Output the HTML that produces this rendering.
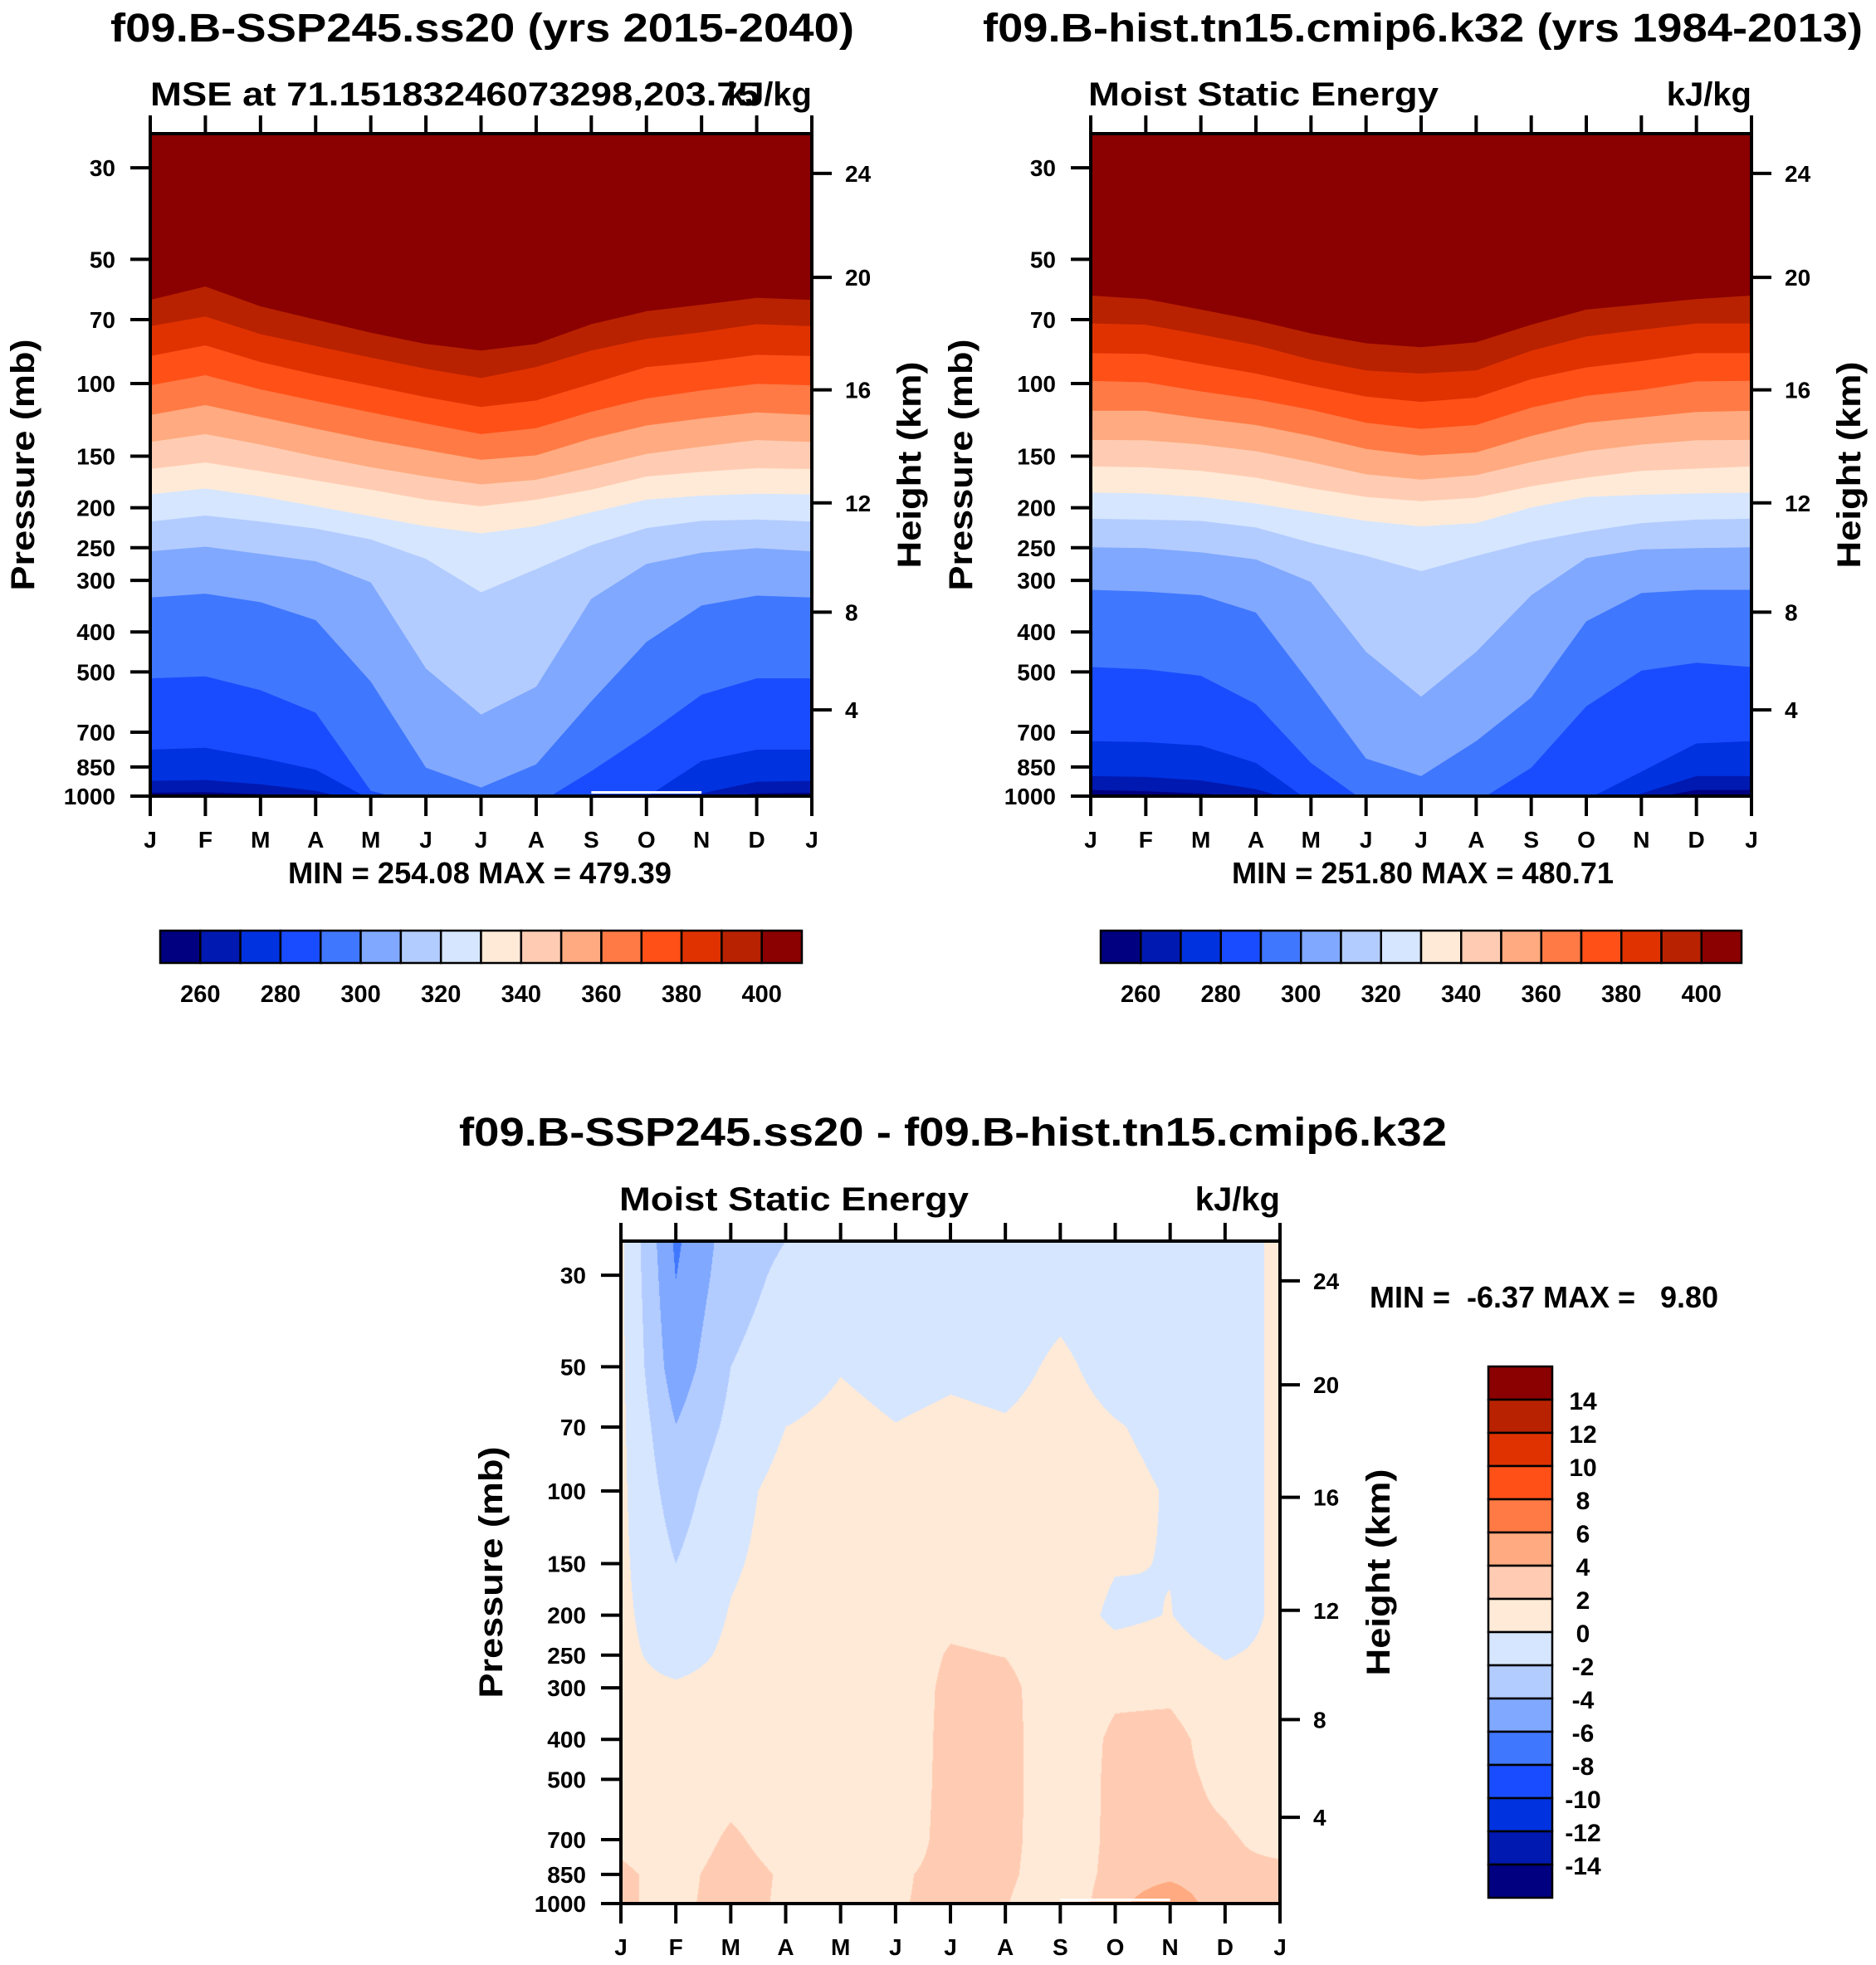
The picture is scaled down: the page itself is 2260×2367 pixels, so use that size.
<!DOCTYPE html>
<html><head><meta charset="utf-8">
<style>
html,body{margin:0;padding:0;background:#fff;}
#wrap{position:relative;width:2260px;height:2367px;overflow:hidden;background:#fff;}
canvas{position:absolute;}
svg{position:absolute;left:0;top:0;}
text{font-family:"Liberation Sans",Arial,sans-serif;font-weight:bold;fill:#000;}
</style></head>
<body>
<div id="wrap">
<canvas id="diffCanvas"></canvas>
<svg id="fig" width="2260" height="2367" xmlns="http://www.w3.org/2000/svg"></svg>
</div>
<script>
// ---------------- DATA ----------------
const months = ['J','F','M','A','M','J','J','A','S','O','N','D','J'];
const mseLevels = [260,270,280,290,300,310,320,330,340,350,360,370,380,390,400];
const mseTickLabels = [260,280,300,320,340,360,380,400];
const diffLevels = [-14,-12,-10,-8,-6,-4,-2,0,2,4,6,8,10,12,14];
const pressureTicks = [30,50,70,100,150,200,250,300,400,500,700,850,1000];
const heightTicks = [4,8,12,16,20,24];
const heightTickPressure = [618,358.2,194.7,103.6,55.3,30.96];
const palette = ['#000080','#0019b0','#0032e0','#1a4cff','#4077ff','#80a8ff','#b3ccff','#d6e6ff','#ffead7','#ffccb3','#ffaa80','#ff7a45','#ff5018','#e03200','#b82200','#8b0000'];

// contour-crossing pressures (hPa) per month, one row per MSE level (260..400)
const ssp245Bounds = [
 [981,978,989,1005,1050,1080,1080,1080,1080,1080,1020,985,981],
 [918.4,914,936,971,1040,1080,1080,1080,1080,1080,985,922.6,918.4],
 [771.6,763.5,807,862.6,1020,1060,1080,1060,1060,1005,822,771.6,771.6],
 [518.2,512.5,553.6,627.8,971,1050,1080,1050,870,708.7,568,518.2,518.2],
 [330.2,323,338.9,374.5,527.9,853,953,837.6,589.4,423,345.2,326.6,330.2],
 [255.1,248.6,258.9,269.6,303.4,490.4,634.5,543.4,332.7,273.6,257,250.6,255.1],
 [216,208.9,216,224.8,238.6,266,320.6,281.8,246.6,224,215.2,213.6,216],
 [185.6,179.7,187.7,198.4,209.8,221.7,230.8,221.7,205.2,191.2,187,185,185.6],
 [161.2,155.4,163.1,171.8,180.9,191.2,198.4,191.2,180.9,168,163.7,160.4,161.2],
 [138.6,132.6,140.6,150.3,159.5,168,175.6,171.1,159.5,148.1,142.2,137.1,138.6],
 [119.2,112.8,120.5,128.7,137.1,144.9,153.1,149.3,136,126.4,121.5,117.5,119.2],
 [101,95.5,103.3,110.3,117.5,125,132.6,128.3,117.1,108.7,104,100.2,101],
 [85.8,80.8,88.7,95.2,101.3,107.9,114,109.9,100.2,91.2,88.7,85.2,85.8],
 [72.6,68.8,75.9,81.1,86.5,92.1,97,91.2,83.2,77.9,75.1,71.8,72.6],
 [62.7,58.2,65,70,75.3,80.2,83.2,80.2,71.8,66.8,64.4,62,62.7]
];
const histBounds = [
 [966.4,973,985,1010,1060,1090,1090,1090,1090,1090,1020,966.4,966.4],
 [894.2,898.6,916.2,962,1050,1090,1090,1090,1090,1060,985.7,894.2,894.2],
 [736,739.6,754,831,1035,1090,1090,1090,1060,1020,872.7,745,736],
 [486.6,492.6,510.9,598.3,831,1035,1060,1035,852.9,605.8,496.6,475.2,486.6],
 [316.3,319.4,325.9,359.1,536.4,811.2,894.2,736,577,376.9,322,316.3,316.3],
 [249.3,250.5,256.6,266.9,302.8,447,574.3,447,325.9,264.8,252.4,250.5,249.3],
 [212.7,213.7,215.3,223.3,243.2,261.6,285,261.6,241.8,228.2,217.9,213.7,212.7],
 [183.8,184.7,188.3,195.3,205.1,215.3,222,217.9,199.6,188.3,186.1,184.7,183.8],
 [158.9,159.7,162.8,169.1,179.4,188.3,192.9,189.2,177.4,169.1,162.8,160.8,158.9],
 [137,137.3,140.6,145.9,155,166,171,166.8,155,145.9,140.6,137.3,137],
 [116.4,116.4,121.5,126.1,134,144.1,149.5,146.9,134,124.5,120.9,117.2,116.4],
 [98.5,99.3,104.5,109.2,115.8,124.5,128.8,126.1,114.4,107.1,103.7,98.8,98.5],
 [84.4,84.8,89.7,94.6,101.2,107.6,110.8,108.2,97.6,91.4,88.2,84.4,84.4],
 [71.5,72,76.1,80.7,87.5,93,94.6,93,83.3,76.9,74.1,71.5,71.5],
 [61.2,62.4,66.2,70.3,75.6,79.9,81.7,79.4,72,66.2,64.3,62.4,61.2]
];

// difference field (kJ/kg): grid pressures and one row per pressure level
const diffPressures = [24.8,30,50,70,100,150,200,250,300,400,500,700,850,1000];
const diff25  = [0.4,-6.37,-3.0,-2.0,-1.0,-1.0,-1.0,-1.0,-0.8,-1.0,-1.0,-1.0,0.4];
const diff30  = [0.4,-6.05,-2.8,-1.6,-0.8,-0.9,-0.9,-0.9,-0.6,-0.9,-1.0,-1.0,0.4];
const diff50  = [0.4,-5.2,-2.0,-1.0,-0.1,-0.6,-0.3,-0.5,0.3,-0.6,-0.8,-1.0,0.4];
const diff70  = [0.4,-3.95,-1.5,0.0,0.5,0.05,0.35,0.15,0.6,0.1,-0.4,-1.0,0.4];
const diff100 = [0.4,-3.0,-0.6,0.6,0.6,0.6,0.8,0.8,0.8,0.4,-0.1,-1.0,0.4];
const diff150 = [0.4,-2.0,-0.2,0.6,0.6,0.6,1.0,1.0,0.8,0.1,-0.05,-1.0,0.4];
const diff200 = [0.4,-1.2,0.1,0.7,0.6,0.6,1.5,1.3,0.8,-0.3,0.05,-1.0,0.4];
const diff250 = [0.4,-0.6,0.3,0.8,0.7,0.7,2.2,1.95,0.6,0.5,0.6,-0.1,0.4];
const diff300 = [0.4,0.2,0.5,0.8,0.7,0.7,2.5,2.6,0.6,1.6,1.6,0.5,0.4];
const diff400 = [0.5,0.5,0.6,0.8,0.7,0.7,2.6,2.7,0.6,2.4,2.6,1.0,0.5];
const diff500 = [0.5,0.5,1.0,0.8,0.7,0.8,2.6,2.7,0.6,2.5,2.5,1.6,0.5];
const diff700 = [1.5,0.5,2.4,0.9,0.7,1.2,2.5,2.6,0.7,2.5,2.4,2.2,1.5];
const diff850 = [2.4,1.2,3.0,1.7,0.8,1.8,2.4,2.4,0.8,2.6,3.3,2.2,2.4];
const diff1000= [2.3,1.4,3.0,1.6,0.8,1.9,2.3,2.1,0.5,3.2,6.2,2.0,2.3];
const diffRows = [diff25,diff30,diff50,diff70,diff100,diff150,diff200,diff250,diff300,diff400,diff500,diff700,diff850,diff1000];

// ---------------- DRAWING ----------------
const NS='http://www.w3.org/2000/svg';
const svg=document.getElementById('fig');
const PTOP=24.8, LOGR=Math.log10(1000/PTOP);
function el(tag,attrs,parent){const e=document.createElementNS(NS,tag);for(const k in attrs)e.setAttribute(k,attrs[k]);(parent||svg).appendChild(e);return e;}
function txt(s,x,y,size,anchor,extra,parent){const t=el('text',Object.assign({x:x,y:y,'font-size':size,'text-anchor':anchor||'start'},extra||{}),parent);t.textContent=s;return t;}

function mkAxes(box){
  box.xm=i=>box.L+(box.R-box.L)*i/12;
  box.yp=p=>box.B-(box.B-box.T)*Math.log10(1000/p)/LOGR;
  return box;
}
function frame(box,g){
  el('rect',{x:box.L,y:box.T,width:box.R-box.L,height:box.B-box.T,fill:'none',stroke:'#000','stroke-width':4},g);
  months.forEach((m,i)=>{
    const x=box.xm(i);
    const tt=el('line',{x1:x,y1:box.T,x2:x,y2:box.T-22,stroke:'#000','stroke-width':4},g);
    
    
    const tb=el('line',{x1:x,y1:box.B,x2:x,y2:box.B+24,stroke:'#000','stroke-width':4},g);
    
    
    const lab=txt(m,x,box.B+62,28,'middle',{},g);
    
    
  });
  pressureTicks.forEach(p=>{
    const y=box.yp(p);
    const t=el('line',{x1:box.L,y1:y,x2:box.L-24,y2:y,stroke:'#000','stroke-width':4},g);
    
    
    const lab=txt(String(p),box.L-42,y+10,28,'end',{},g);
    
    
  });
  heightTicks.forEach((h,i)=>{
    const y=box.yp(heightTickPressure[i]);
    const t=el('line',{x1:box.R,y1:y,x2:box.R+24,y2:y,stroke:'#000','stroke-width':4},g);
    
    
    const lab=txt(String(h),box.R+40,y+10,28,'start',{},g);
    
    
  });
  const cy=(box.T+box.B)/2;
  const pt=txt('Pressure (mb)',box.px,cy,40,'middle',{transform:`rotate(-90 ${box.px} ${cy})`,textLength:303,lengthAdjust:'spacingAndGlyphs'},g);
  
  
  const ht=txt('Height (km)',box.hx,cy,40,'middle',{transform:`rotate(-90 ${box.hx} ${cy})`,textLength:249,lengthAdjust:'spacingAndGlyphs'},g);
  
  
}

function mseContour(box,bounds,name,idx){
  const g=el('g',{});
  
  
  const cp=el('clipPath',{id:'clip'+idx},g);
  el('rect',{x:box.L,y:box.T,width:box.R-box.L,height:box.B-box.T},cp);
  const cg=el('g',{'clip-path':`url(#clip${idx})`},g);
  const base=el('rect',{x:box.L,y:box.T,width:box.R-box.L,height:box.B-box.T,fill:palette[0]},cg);
  
  
  bounds.forEach((row,k)=>{
    let pts=`${box.L},${box.T-5} ${box.R},${box.T-5}`;
    for(let i=12;i>=0;i--) pts+=` ${box.xm(i).toFixed(1)},${box.yp(row[i]).toFixed(1)}`;
    const poly=el('polygon',{points:pts,fill:palette[k+1]},cg);
    
    
  });
  return g;
}

function hColorbar(x0,x1,y0,y1,name){
  const g=el('g',{});
  
  
  const w=(x1-x0)/16;
  palette.forEach((c,i)=>{
    const r=el('rect',{x:x0+i*w,y:y0,width:w,height:y1-y0,fill:c,stroke:'#000','stroke-width':2.5},g);
    
    
  });
  mseTickLabels.forEach(v=>{
    const k=mseLevels.indexOf(v)+1;
    const t=txt(String(v),x0+k*w,y1+47,29,'middle',{},g);
    
    
  });
}

// Titles
let t;
t=txt('f09.B-SSP245.ss20 (yrs 2015-2040)',581,50,48,'middle',{textLength:896,lengthAdjust:'spacingAndGlyphs'});

t=txt('f09.B-hist.tn15.cmip6.k32 (yrs 1984-2013)',1714,50,48,'middle',{textLength:1060,lengthAdjust:'spacingAndGlyphs'});

t=txt('f09.B-SSP245.ss20 - f09.B-hist.tn15.cmip6.k32',1148,1380,48,'middle',{textLength:1190,lengthAdjust:'spacingAndGlyphs'});


// Plot 1
const box1=mkAxes({L:181,R:978,T:161,B:959,px:41,hx:1109});
mseContour(box1,ssp245Bounds,'ssp245-mse-contours',1);
let ws=el('rect',{x:box1.xm(8),y:box1.B-6,width:box1.xm(10)-box1.xm(8),height:3,fill:'#fff'});

frame(box1,svg);
t=txt('MSE at 71.15183246073298,203.75',181,127,40,'start',{textLength:733,lengthAdjust:'spacingAndGlyphs'});

t=txt('kJ/kg',978,127,40,'end');

t=txt('MIN = 254.08 MAX = 479.39',578,1064,36,'middle',{textLength:462,lengthAdjust:'spacingAndGlyphs'});

hColorbar(193,966,1121,1160,'left-colorbar');

// Plot 2
const box2=mkAxes({L:1314,R:2110,T:161,B:959,px:1171,hx:2241});
mseContour(box2,histBounds,'hist-mse-contours',2);
frame(box2,svg);
t=txt('Moist Static Energy',1311,127,40,'start',{textLength:422,lengthAdjust:'spacingAndGlyphs'});

t=txt('kJ/kg',2110,127,40,'end');

t=txt('MIN = 251.80 MAX = 480.71',1714,1064,36,'middle',{textLength:460,lengthAdjust:'spacingAndGlyphs'});

hColorbar(1326,2098,1121,1160,'right-colorbar');

// Plot 3 (canvas field)
const box3=mkAxes({L:748,R:1542,T:1495,B:2293,px:605,hx:1674});
(function(){
  const cv=document.getElementById('diffCanvas');
  const W=box3.R-box3.L, H=box3.B-box3.T;
  cv.width=W;cv.height=H;cv.style.left=box3.L+'px';cv.style.top=box3.T+'px';
  const ctx=cv.getContext('2d');
  const img=ctx.createImageData(W,H);
  const rgb=palette.map(h=>[parseInt(h.slice(1,3),16),parseInt(h.slice(3,5),16),parseInt(h.slice(5,7),16)]);
  const lp=diffPressures.map(p=>Math.log10(p));
  for(let py=0;py<H;py++){
    const logp=3-(H-py-0.5)/H*LOGR;
    let j=0;while(j<lp.length-2&&logp>lp[j+1])j++;
    let fy=(logp-lp[j])/(lp[j+1]-lp[j]);fy=Math.max(0,Math.min(1,fy));
    const r0=diffRows[j],r1=diffRows[j+1];
    for(let px=0;px<W;px++){
      const m=(px+0.5)/W*12;let i=Math.min(11,Math.floor(m));const fx=m-i;
      const v=(r0[i]*(1-fx)+r0[i+1]*fx)*(1-fy)+(r1[i]*(1-fx)+r1[i+1]*fx)*fy;
      let k=0;while(k<diffLevels.length&&v>=diffLevels[k])k++;
      const c=rgb[k],o=(py*W+px)*4;
      img.data[o]=c[0];img.data[o+1]=c[1];img.data[o+2]=c[2];img.data[o+3]=255;
    }
  }
  ctx.putImageData(img,0,0);
})();
ws=el('rect',{x:box3.xm(8),y:box3.B-6,width:box3.xm(10)-box3.xm(8),height:3,fill:'#fff'});

frame(box3,svg);
t=txt('Moist Static Energy',746,1458,40,'start',{textLength:421,lengthAdjust:'spacingAndGlyphs'});

t=txt('kJ/kg',1542,1458,40,'end');

t=txt('MIN =  -6.37 MAX =   9.80',1650,1575,36,'start',{textLength:420,lengthAdjust:'spacingAndGlyphs','xml:space':'preserve'});
t.style.whiteSpace='pre';


// vertical colorbar
(function(){
  const g=el('g',{});
  
  
  const x0=1793,x1=1870,y0=1646,y1=2286,h=(y1-y0)/16;
  for(let i=0;i<16;i++){
    const r=el('rect',{x:x0,y:y0+i*h,width:x1-x0,height:h,fill:palette[15-i],stroke:'#000','stroke-width':2.5},g);
    
    
  }
  diffLevels.slice().reverse().forEach((v,k)=>{
    const tl=txt(String(v),1907,y0+(k+1)*h+12,30,'middle',{},g);
    
    
  });
})();
</script>
</body></html>
